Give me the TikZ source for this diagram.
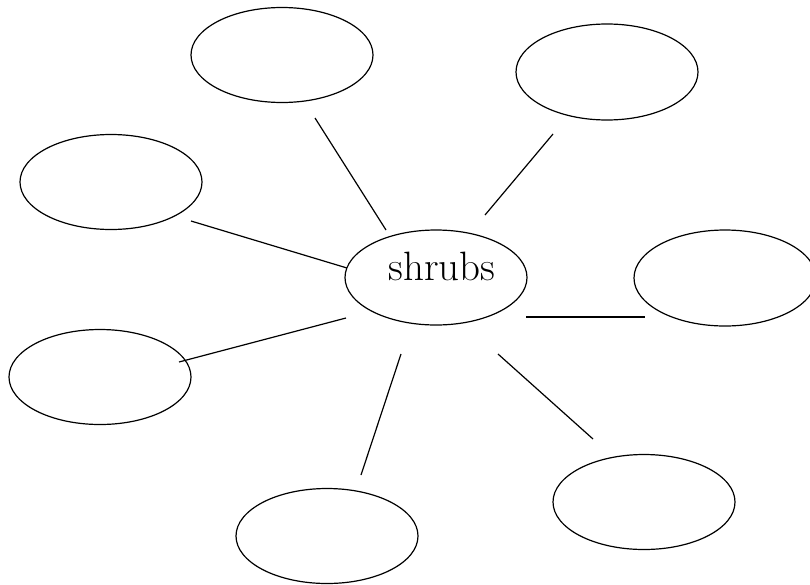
\documentclass[tikz,border=0pt]{standalone}
\begin{document}
\begin{tikzpicture}[x=1pt,y=-1pt,
  bubble/.style={draw=black,line width=1.2pt},
  link/.style={draw=black,line width=1.2pt}]
\useasboundingbox (0,0) rectangle (810,584);
\clip (0,0) rectangle (810,584);
% ellipses
\draw[bubble] (436,277.5) ellipse [x radius=91,y radius=47.5];
\draw[bubble] (282,55) ellipse [x radius=91,y radius=47.5];
\draw[bubble] (607,72) ellipse [x radius=91,y radius=48];
\draw[bubble] (111,182) ellipse [x radius=91,y radius=47.5];
\draw[bubble] (725,278) ellipse [x radius=91,y radius=48];
\draw[bubble] (100,377) ellipse [x radius=91,y radius=47.5];
\draw[bubble] (327,536) ellipse [x radius=91,y radius=47.5];
\draw[bubble] (644,502) ellipse [x radius=91,y radius=47.5];
\node[anchor=base,inner sep=0pt,font=\fontsize{41}{43}\selectfont] (c) at (442,280) {shrubs};
% connector end points
\coordinate (a1) at (315,118); \coordinate (a2) at (386,230);
\coordinate (b1) at (553,134); \coordinate (b2) at (485,215);
\coordinate (c1) at (191,221); \coordinate (c2) at (347,268);
\coordinate (d1) at (179,362); \coordinate (d2) at (346,318);
\coordinate (e1) at (526,317); \coordinate (e2) at (645,317);
\coordinate (f1) at (401,354); \coordinate (f2) at (361,475);
\coordinate (g1) at (498,354); \coordinate (g2) at (593,439);
\draw[link] (a1) -- (a2);
\draw[link] (b1) -- (b2);
\draw[link] (c1) -- (c2);
\draw[link] (d1) -- (d2);
\draw[link] (e1) -- (e2);
\draw[link] (f1) -- (f2);
\draw[link] (g1) -- (g2);
\end{tikzpicture}
\end{document}
